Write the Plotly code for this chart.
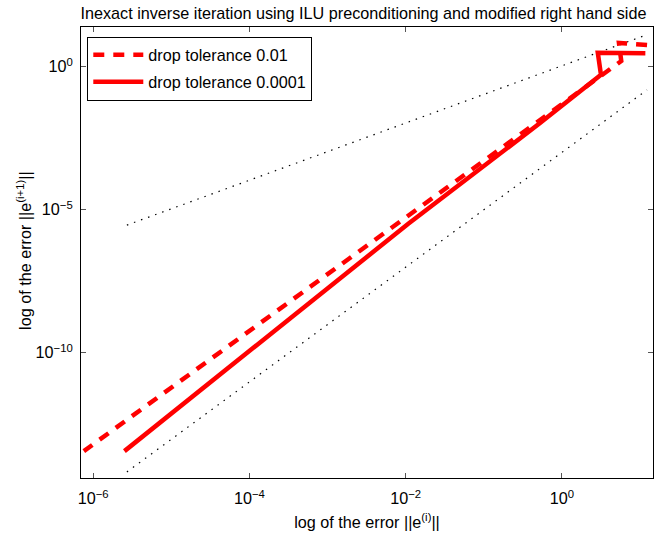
import plotly.graph_objects as go

# ---- data (loglog) ----
tol_a_name = "drop tolerance 0.01"
tol_a_x = [12.3, 5.37, 5.75, 1.58, 0.123, 7.76e-4, 7.59e-7]
tol_a_y = [5.75, 6.76, 1.58, 0.123, 7.76e-4, 3.31e-8, 3.63e-14]

tol_b_name = "drop tolerance 0.0001"
tol_b_x = [11.7, 2.88, 3.16, 0.525, 0.0107, 2.51e-6]
tol_b_y = [2.95, 3.09, 0.525, 0.0107, 3.16e-6, 3.63e-14]

ref_x = [2.7e-6, 12.3]
ref_lin_y = [2.9e-6, 13.2]
ref_quad_y = [6.8e-15, 0.155]

x_tickvals = [1e-6, 1e-4, 1e-2, 1]
x_ticktext = ["10<sup>\u22126</sup>", "10<sup>\u22124</sup>", "10<sup>\u22122</sup>", "10<sup>0</sup>"]
y_tickvals = [1e-10, 1e-5, 1]
y_ticktext = ["10<sup>\u221210</sup>", "10<sup>\u22125</sup>", "10<sup>0</sup>"]

FONT = "Liberation Sans, Arial, Helvetica, sans-serif"
FS = 16.2

fig = go.Figure()
fig.add_trace(go.Scatter(x=ref_x, y=ref_lin_y, mode="lines", showlegend=False,
                         line=dict(color="black", width=1.2, dash="1.5px,6px")))
fig.add_trace(go.Scatter(x=ref_x, y=ref_quad_y, mode="lines", showlegend=False,
                         line=dict(color="black", width=1.2, dash="1.5px,6px")))
fig.add_trace(go.Scatter(x=tol_a_x, y=tol_a_y, mode="lines", name=tol_a_name,
                         legendgroup="a",
                         line=dict(color="#ff0000", width=4.5, dash="11px,9px")))
fig.add_trace(go.Scatter(x=tol_b_x, y=tol_b_y, mode="lines", name=tol_b_name,
                         legendgroup="b",
                         line=dict(color="#ff0000", width=4.5)))

axis_common = dict(
    showgrid=False, zeroline=False, showline=True, linecolor="black", linewidth=1,
    mirror="ticks", ticks="inside", ticklen=5, tickcolor="#555555", tickwidth=1,
    tickfont=dict(family=FONT, size=FS, color="black"), automargin=False,
)
fig.update_xaxes(type="log", range=[-6.156, 1.166], tickmode="array",
                 tickvals=x_tickvals, ticktext=x_ticktext, ticklabelstandoff=6,
                 title=dict(text="log of the error ||e<sup>(i)</sup>||",
                            font=dict(family=FONT, size=FS, color="black"), standoff=10),
                 **axis_common)
fig.update_yaxes(type="log", range=[-14.38, 1.388], tickmode="array",
                 tickvals=y_tickvals, ticktext=y_ticktext, ticklabelstandoff=4,
                 **axis_common)

fig.add_annotation(text="log of the error ||e<sup>(i+1)</sup>||", textangle=-90,
                   xref="paper", yref="paper", x=-0.0985, y=0.505,
                   xanchor="center", yanchor="middle", showarrow=False,
                   font=dict(family=FONT, size=FS, color="black"))

fig.update_layout(
    width=660, height=538,
    margin=dict(l=81, r=7, t=27, b=60, autoexpand=False),
    paper_bgcolor="white", plot_bgcolor="white",
    font=dict(family=FONT, size=FS, color="black"),
    title=dict(text="Inexact inverse iteration using ILU preconditioning and modified right hand side",
               x=0.5507, xanchor="center", y=0.985, yanchor="top", automargin=False,
               font=dict(family=FONT, size=FS, color="black")),
    legend=dict(x=0.011, y=0.9785, xanchor="left", yanchor="top", itemwidth=50,
                tracegroupgap=3, traceorder="grouped",
                bgcolor="white", bordercolor="black", borderwidth=1,
                font=dict(family=FONT, size=FS, color="black")),
)

fig.write_html("out.html", config={"displayModeBar": False},
               post_script="document.body.style.margin='0';document.body.style.padding='0';")
